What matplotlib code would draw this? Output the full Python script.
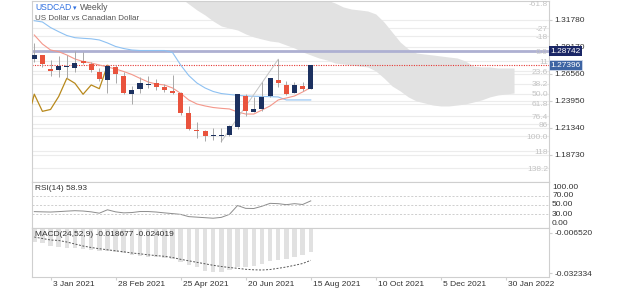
import matplotlib.pyplot as plt
import matplotlib.transforms as mtransforms
import numpy as np

plt.rcParams['font.family'] = ['Liberation Sans', 'DejaVu Sans']

# weekly candles, index 0 = week of 20 Dec 2020
opens = [1.2798, 1.2837, 1.2709, 1.2698, 1.2728, 1.2711, 1.2782, 1.2757, 1.2678, 1.2601,
         1.2724, 1.2641, 1.2466, 1.2514, 1.2554, 1.2566, 1.2527, 1.2496, 1.2469, 1.2276,
         1.2119, 1.2105, 1.2059, 1.2058, 1.2066, 1.2144, 1.2448, 1.2292, 1.2315, 1.2443,
         1.2598, 1.2550, 1.2477, 1.2537, 1.2514]
highs = [1.2959, 1.2840, 1.2791, 1.2827, 1.2840, 1.2875, 1.2871, 1.2769, 1.2711, 1.2743,
         1.2743, 1.2672, 1.2540, 1.2627, 1.2641, 1.2608, 1.2559, 1.2646, 1.2482, 1.2351,
         1.2195, 1.2119, 1.2134, 1.2134, 1.2163, 1.2467, 1.2463, 1.2434, 1.2582, 1.2620,
         1.2798, 1.2591, 1.2582, 1.2582, 1.27396]
lows = [1.2775, 1.2719, 1.2632, 1.2624, 1.2617, 1.2678, 1.2753, 1.2678, 1.2588, 1.2469,
        1.2566, 1.2463, 1.2364, 1.2469, 1.2521, 1.2501, 1.2485, 1.2463, 1.2264, 1.2115,
        1.2039, 1.2013, 1.2018, 1.2003, 1.2059, 1.2126, 1.2250, 1.2289, 1.2303, 1.2436,
        1.2530, 1.2453, 1.2475, 1.2492, 1.2514]
closes = [1.2840, 1.2756, 1.2688, 1.2733, 1.2738, 1.2767, 1.2759, 1.2695, 1.2606, 1.2733,
          1.2659, 1.2475, 1.2501, 1.2566, 1.2564, 1.2527, 1.2501, 1.2472, 1.2279, 1.2121,
          1.2102, 1.2058, 1.2071, 1.2066, 1.2158, 1.2461, 1.2295, 1.2313, 1.2438, 1.2614,
          1.2566, 1.2460, 1.2550, 1.2514, 1.27396]

tenkan = [1.3033, 1.2946, 1.2888, 1.2872, 1.2840, 1.2801, 1.2777, 1.2762, 1.2743, 1.2724,
          1.2704, 1.2680, 1.2651, 1.2614, 1.2579, 1.2559, 1.2550, 1.2521, 1.2469, 1.2405,
          1.2366, 1.2347, 1.2332, 1.2324, 1.2318, 1.2289, 1.2269, 1.2269, 1.2308, 1.2347,
          1.2405, 1.2424, 1.2443, 1.2482, 1.2525]
kijun = [1.3171, 1.3159, 1.3105, 1.3065, 1.3028, 1.3007, 1.3001, 1.2996, 1.2985, 1.2956,
         1.2922, 1.2902, 1.2888, 1.2883, 1.2883, 1.2883, 1.2883, 1.2864, 1.2743, 1.2641,
         1.2569, 1.2521, 1.2487, 1.2467, 1.2458, 1.2450, 1.2443, 1.2441, 1.2439, 1.2437,
         1.2434, 1.2405, 1.2405, 1.2405, 1.2405]

# cloud, weeks 17..59
cloud_upper = [1.3777, 1.3758, 1.3739, 1.3710, 1.3681, 1.3661, 1.3642, 1.3623, 1.3603, 1.3584,
               1.3565, 1.3545, 1.3526, 1.3507, 1.3487, 1.3468, 1.3449, 1.3420, 1.3400, 1.3371,
               1.3342, 1.3304, 1.3284, 1.3275, 1.3265, 1.3236, 1.3159, 1.3062, 1.2965, 1.2898,
               1.2859, 1.2849, 1.2840, 1.2830, 1.2820, 1.2811, 1.2782, 1.2733, 1.2724, 1.2724,
               1.2714, 1.2714, 1.2714]
cloud_lower = [1.3429, 1.3391, 1.3333, 1.3275, 1.3226, 1.3168, 1.3120, 1.3100, 1.3081, 1.3043,
               1.3014, 1.2994, 1.2975, 1.2965, 1.2936, 1.2907, 1.2869, 1.2840, 1.2811, 1.2791,
               1.2762, 1.2753, 1.2743, 1.2733, 1.2724, 1.2685, 1.2617, 1.2540, 1.2492, 1.2434,
               1.2395, 1.2376, 1.2356, 1.2347, 1.2347, 1.2356, 1.2366, 1.2385, 1.2405, 1.2434,
               1.2453, 1.2463, 1.2472]

rsi = [35.6, 35.1, 34.7, 35.6, 36.7, 37.6, 36.9, 35.1, 32.2, 39.6,
       35.1, 32.9, 33.6, 35.8, 35.8, 34.7, 32.9, 31.3, 29.6, 24.7,
       23.6, 22.4, 21.3, 23.1, 29.6, 48.9, 42.7, 42.4, 47.3, 53.6,
       52.9, 50.7, 52.9, 51.1, 58.93]

macd = [-0.01209, -0.01312, -0.01466, -0.01530, -0.01594, -0.01632, -0.01677, -0.01741, -0.01786, -0.01805,
        -0.01850, -0.01952, -0.02061, -0.02106, -0.02170, -0.02209, -0.02234, -0.02337, -0.02491, -0.02702,
        -0.02849, -0.03067, -0.03131, -0.03150, -0.03022, -0.02811, -0.02811, -0.02766, -0.02638, -0.02446,
        -0.02382, -0.02337, -0.02209, -0.02061, -0.018677]
signal = [-0.00908, -0.01004, -0.01100, -0.01132, -0.01229, -0.01357, -0.01485, -0.01581, -0.01658, -0.01728,
          -0.01792, -0.01856, -0.01933, -0.01984, -0.02049, -0.02100, -0.02145, -0.02221, -0.02337, -0.02433,
          -0.02529, -0.02625, -0.02721, -0.02798, -0.02862, -0.02913, -0.02977, -0.03009, -0.03022, -0.02990,
          -0.02913, -0.02830, -0.02721, -0.02606, -0.024019]

price_ticks = [1.31780, 1.29170, 1.26560, 1.23950, 1.21340, 1.18730]
fib_levels = [-61.8, -27.2, -18.0, 0.0, 11.4, 23.6, 38.2, 50.0, 61.8, 76.4, 86.0, 100.0, 118.0, 138.2]
fib_text = ['-61.8', '-27', '-18', '0.0', '11', '23.6', '38.2', '50.0', '61.8', '76.4', '86', '100.0', '118', '138.2']
fib_top, fib_bottom = 1.28742, 1.20566
last_close = 1.27396
date_ticks = [2, 10, 18, 26, 34, 42, 50, 58]
date_labels = ['3 Jan 2021', '28 Feb 2021', '25 Apr 2021', '20 Jun 2021',
               '15 Aug 2021', '10 Oct 2021', '5 Dec 2021', '30 Jan 2022']

BULL = '#1c3160'
BEAR = '#e9533d'
GRID = '#ececec'
EDGE = '#cfcfcf'
TXT = '#333333'

fig = plt.figure(figsize=(6.25, 2.89), dpi=100)
L, W = 32 / 625, (549 - 32) / 625
ax = fig.add_axes([L, 1 - 182 / 289, W, 181 / 289])
ax_rsi = fig.add_axes([L, 1 - 228 / 289, W, 46 / 289], sharex=ax)
ax_macd = fig.add_axes([L, 1 - 277.3 / 289, W, 49.3 / 289], sharex=ax)

n = len(closes)
x = np.arange(n)
xmin, xmax = -0.28, 63.3

# ---- main price panel
ax.set_xlim(xmin, xmax)
ax.set_ylim(1.16119, 1.33616)
for p in price_ticks:
    ax.axhline(p, color=GRID, lw=0.8, zorder=0)
fib_prices = [fib_top - f / 100 * (fib_top - fib_bottom) for f in fib_levels]
for p in fib_prices:
    ax.axhline(p, color=GRID, lw=0.8, zorder=0)

cx = np.arange(17, 17 + len(cloud_upper))
ax.fill_between(cx, cloud_lower, cloud_upper, color='#e2e2e2', lw=0, zorder=1)

ax.axhline(fib_top, color='#aeb0d2', lw=2, zorder=2)
ax.axhline(last_close, color='#e53935', lw=0.8, ls=(0, (1, 1.2)), zorder=2)

ax.plot(x, kijun, color='#8ec1f2', lw=0.8, zorder=3)
ax.plot(x, tenkan, color='#f4978a', lw=0.8, zorder=3)
# lagging span: closes moved back 25 weeks
ax.plot(np.arange(-1, 10), closes[24:], color='#b8891c', lw=0.9, zorder=3)
# trend line used for the retracement
ax.plot([23, 30], [lows[23], highs[30]], color='#c4c4c4', lw=0.7, zorder=3)

cols = [BULL if c >= o else BEAR for o, c in zip(opens, closes)]
ax.vlines(x, lows, highs, color='#a8a8a8', lw=0.7, zorder=4)
bottoms = [min(o, c) for o, c in zip(opens, closes)]
heights = [max(abs(c - o), 0.0008) for o, c in zip(opens, closes)]
ax.bar(x, heights, bottom=bottoms, width=0.62, color=cols, zorder=5)

ax.yaxis.tick_right()
ax.set_yticks(price_ticks)
ax.set_yticklabels([f'{p:.5f}' for p in price_ticks])
ax.tick_params(axis='y', length=2, pad=2, labelsize=6, colors=TXT, color=EDGE)
ax.tick_params(axis='x', bottom=False, labelbottom=False)

trans = mtransforms.blended_transform_factory(ax.transAxes, ax.transData)
px = (ax.get_ylim()[1] - ax.get_ylim()[0]) / 181
for p, t in zip(fib_prices, fib_text):
    yy = min(p - 1.2 * px, ax.get_ylim()[1] - 3 * px)
    ax.text(0.998, yy, t, transform=trans, ha='right', va='center',
            fontsize=6, color='#c4c4c4', zorder=6)

ax.text(1.003, fib_top, f'{fib_top:.5f}', transform=trans, ha='left', va='center',
        fontsize=6, color='white', zorder=10, clip_on=False,
        bbox=dict(boxstyle='square,pad=0.18', fc='#1b2766', ec='none'))
ax.text(1.003, last_close, f'{last_close:.5f}', transform=trans, ha='left', va='center',
        fontsize=6, color='white', zorder=10, clip_on=False,
        bbox=dict(boxstyle='square,pad=0.18', fc='#3d64a3', ec='#cfd8ea', lw=0.6))

ax.text(3 / 517, 0.962, 'USDCAD', transform=ax.transAxes, fontsize=6.2, color='#2f6fe0', va='center')
ax.text(41 / 517, 0.962, '\u25be', transform=ax.transAxes, fontsize=5,
        color='#2f6fe0', va='center', family=['DejaVu Sans'])
ax.text(47.5 / 517, 0.962, 'Weekly', transform=ax.transAxes, fontsize=6.2,
        color='#555555', va='center')
ax.text(3 / 517, 0.903, 'US Dollar vs Canadian Dollar', transform=ax.transAxes,
        fontsize=5.8, color='#555555', va='center')

# ---- RSI panel
ax_rsi.set_ylim(0, 100)
ax_rsi.plot(x, rsi, color='#8c8c8c', lw=0.7)
for lv in [70, 50, 30]:
    ax_rsi.axhline(lv, color='#c8c8c8', lw=0.6, ls=(0, (2.5, 2)))
ax_rsi.set_yticks([])
ax_rsi.tick_params(axis='x', bottom=False, labelbottom=False)
ax_rsi.text(3 / 517, 0.86, f'RSI(14) {rsi[-1]:.2f}', transform=ax_rsi.transAxes,
            fontsize=6, color=TXT, va='center')
tr_rsi = mtransforms.blended_transform_factory(ax_rsi.transAxes, ax_rsi.transData)
for val, ypos in [('100.00', 88), ('70.00', 70), ('50.00', 50), ('30.00', 30), ('0.00', 10)]:
    ax_rsi.text(1.006, ypos, val, transform=tr_rsi, ha='left', va='center',
                fontsize=6, color=TXT, clip_on=False)

# ---- MACD panel
macd_ticks = [-0.006520, -0.032334]
ax_macd.set_ylim(-0.03489, -0.00332)
ax_macd.bar(x, macd, width=0.55, color='#e1e1e1', zorder=1)
ax_macd.plot(x, signal, color='#555555', lw=0.7, ls=(0, (2, 1.6)), zorder=2)
ax_macd.yaxis.tick_right()
ax_macd.set_yticks(macd_ticks)
ax_macd.set_yticklabels([f'{v:.6f}' for v in macd_ticks])
ax_macd.tick_params(axis='y', length=2, pad=2, labelsize=6, colors=TXT, color=EDGE)
ax_macd.text(3 / 517, 0.86, f'MACD(24,52,9) {macd[-1]:.6f} {signal[-1]:.6f}',
             transform=ax_macd.transAxes, fontsize=6, color=TXT, va='center')
ax_macd.set_xticks(date_ticks)
ax_macd.set_xticklabels(date_labels, ha='left')
ax_macd.tick_params(axis='x', length=2, pad=0.5, labelsize=6, colors=TXT, color=EDGE)
off = mtransforms.ScaledTranslation(2 / 100, 0, fig.dpi_scale_trans)
for lab in ax_macd.get_xticklabels():
    lab.set_transform(lab.get_transform() + off)

for a in (ax, ax_rsi, ax_macd):
    for s in a.spines.values():
        s.set_color(EDGE)
        s.set_linewidth(0.8)
    a.set_facecolor('white')

fig.savefig('out.png', dpi=100)
